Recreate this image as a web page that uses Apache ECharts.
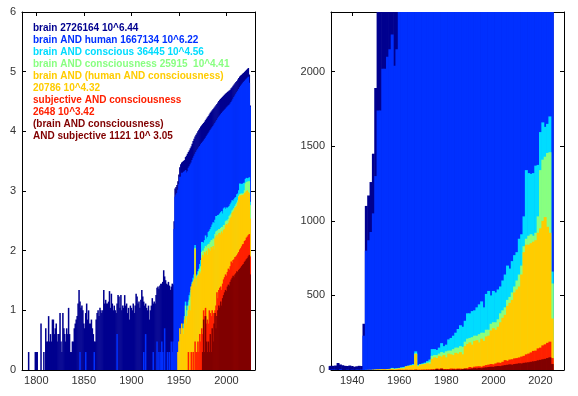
<!DOCTYPE html>
<html>
<head>
<meta charset="utf-8">
<script src="https://cdn.jsdelivr.net/npm/echarts@6/dist/echarts.min.js"></script>
<style>
  html, body { margin: 0; padding: 0; background: #fff; }
  #chart { width: 578px; height: 396px; }
</style>
</head>
<body>
<div id="chart"></div>
<script>
// yearly hit counts; brain / brain AND human start in 1785, the rest in 1945
const YEAR0 = 1785;
const MODERN0 = 1945;

const brain = [
  0, 0, 1, 0, 0, 1, 0, 2, 0, 1,
  0, 0, 1, 0, 2, 2, 2, 0, 1, 0,
  6, 1, 0, 2, 1, 5, 3, 3, 8, 3,
  4, 3, 7, 7, 4, 5, 6, 3, 4, 4,
  9, 3, 2, 9, 5, 4, 3, 5, 4, 11,
  4, 2, 2, 3, 3, 5, 6, 7, 8, 13,
  22, 14, 11, 12, 10, 6, 5, 9, 13, 7,
  10, 6, 6, 7, 5, 4, 3, 3, 7, 9,
  10, 8, 11, 10, 9, 10, 22, 13, 15, 13,
  13, 14, 21, 11, 19, 13, 10, 12, 10, 9,
  13, 18, 17, 11, 18, 10, 12, 11, 18, 12,
  13, 9, 11, 7, 12, 11, 10, 13, 9, 12,
  19, 17, 13, 14, 11, 15, 22, 17, 14, 12,
  13, 11, 10, 12, 7, 10, 12, 16, 13, 14,
  13, 18, 24, 25, 23, 26, 28, 28, 30, 47,
  37, 32, 28, 27, 30, 26, 22, 25, 28, 27,
  310, 1100, 1170, 1260, 1450, 1890, 2500, 2800, 3000, 3100,
  3200, 3300, 3700, 3900, 4200, 4500, 4800, 5200, 5600, 6200,
  6900, 7500, 8200, 8800, 9300, 10000, 10600, 11300, 12000, 12600,
  13200, 13800, 14500, 15400, 16300, 17200, 18100, 19200, 20400, 21500,
  22500, 23600, 24800, 26000, 27300, 28800, 30500, 32300, 33900, 35300,
  36600, 38000, 39500, 41000, 42500, 44000, 45500, 47000, 48500, 50000,
  52500, 55000, 58000, 61000, 64000, 67000, 70000, 74000, 78000, 83000,
  86000, 89000, 92000, 95000, 99000, 103000, 107000, 111000, 115000, 90000,
  27000
];

const brainHuman = [
  0, 0, 0, 0, 0, 0, 0, 0, 0, 0,
  0, 0, 0, 0, 0, 0, 0, 0, 0, 0,
  0, 0, 0, 0, 0, 0, 0, 0, 0, 0,
  0, 0, 0, 0, 0, 0, 0, 0, 0, 0,
  0, 0, 0, 0, 0, 0, 0, 0, 0, 0,
  0, 0, 1, 0, 0, 0, 0, 0, 0, 0,
  0, 2, 0, 0, 0, 0, 0, 2, 0, 0,
  0, 0, 0, 0, 0, 0, 2, 0, 0, 0,
  0, 0, 0, 0, 0, 0, 0, 0, 0, 0,
  0, 0, 0, 0, 0, 0, 0, 0, 0, 0,
  4, 0, 0, 0, 0, 0, 0, 0, 0, 0,
  0, 0, 0, 0, 0, 0, 0, 0, 0, 0,
  0, 0, 0, 0, 0, 0, 0, 0, 2, 0,
  4, 0, 0, 0, 0, 0, 0, 0, 2, 0,
  0, 0, 3, 0, 2, 0, 2, 3, 2, 0,
  5, 0, 0, 2, 0, 2, 0, 3, 2, 3,
  230, 800, 870, 925, 1050, 1300, 1740, 1740, 2020, 2020,
  2100, 2150, 2250, 2040, 2150, 2450, 2600, 2800, 3000, 3300,
  3600, 3900, 4200, 4500, 4800, 5100, 5400, 5700, 6100, 6400,
  6700, 7000, 7400, 7800, 8300, 8800, 9300, 9900, 10500, 11100,
  11700, 12300, 13000, 13800, 14600, 15500, 16500, 17500, 18500, 19400,
  20300, 21200, 22100, 23000, 24000, 25000, 26000, 27000, 28000, 29200,
  31000, 33000, 35000, 37500, 40000, 42500, 45000, 48000, 51000, 55000,
  58000, 61000, 64000, 67000, 70000, 73000, 76000, 79000, 82000, 65000,
  26000
];

const brainConscious = [
  0, 1, 0, 1, 1, 2, 3, 4, 5, 4,
  6, 8, 14, 10, 12, 14, 18, 20, 25, 30,
  35, 40, 125, 35, 40, 45, 50, 60, 70, 140,
  140, 135, 150, 180, 160, 170, 205, 215, 230, 250,
  275, 300, 290, 330, 380, 380, 395, 400, 420, 440,
  460, 420, 510, 530, 500, 530, 520, 540, 560, 600,
  640, 700, 680, 730, 770, 790, 880, 910, 1030, 1340,
  1320, 1315, 1320, 1370, 1375, 1595, 1660, 1630, 1650, 1700,
  660
];

const brainConsciousness = [
  0, 0, 1, 0, 1, 2, 2, 3, 4, 3,
  5, 6, 12, 8, 10, 12, 15, 17, 22, 25,
  30, 33, 112, 30, 38, 40, 45, 50, 55, 95,
  100, 100, 110, 120, 115, 125, 130, 130, 140, 150,
  150, 160, 155, 190, 210, 215, 220, 230, 230, 240,
  250, 250, 270, 270, 310, 320, 320, 340, 380, 400,
  420, 470, 490, 520, 560, 600, 640, 700, 830, 880,
  900, 910, 900, 920, 1030, 1340, 1410, 1430, 1455, 1460,
  580
];

const brainHumanConsciousness = [
  0, 0, 0, 1, 2, 3, 5, 4, 6, 5,
  4, 7, 8, 6, 8, 10, 12, 10, 25, 28,
  30, 33, 107, 25, 35, 38, 40, 45, 42, 75,
  85, 80, 95, 90, 100, 85, 110, 105, 100, 115,
  110, 120, 105, 160, 175, 185, 170, 195, 200, 185,
  210, 195, 225, 230, 265, 280, 270, 290, 320, 350,
  370, 430, 450, 470, 520, 540, 560, 640, 790, 840,
  840, 850, 860, 870, 920, 950, 1000, 1025, 960, 920,
  345
];

const subjectiveConsciousness = [
  0, 0, 1, 0, 1, 0, 1, 0, 1, 1,
  0, 1, 1, 0, 1, 2, 1, 1, 2, 1,
  2, 1, 3, 2, 2, 3, 2, 4, 3, 5,
  4, 10, 8, 11, 6, 7, 6, 10, 9, 8,
  10, 9, 8, 10, 12, 20, 16, 22, 24, 25,
  22, 28, 33, 36, 40, 38, 44, 50, 48, 55,
  66, 62, 70, 72, 78, 80, 84, 90, 95, 105,
  110, 118, 128, 130, 145, 150, 165, 172, 182, 190,
  80
];

const brainConsciousnessSubjective = [
  0, 0, 0, 0, 0, 0, 0, 0, 0, 0,
  0, 0, 0, 0, 0, 0, 0, 0, 0, 0,
  0, 0, 1, 0, 0, 0, 1, 0, 1, 1,
  2, 7, 2, 8, 3, 2, 3, 2, 4, 2,
  5, 3, 6, 9, 5, 8, 10, 12, 11, 14,
  12, 16, 18, 20, 22, 21, 25, 27, 26, 30,
  33, 35, 38, 36, 40, 42, 45, 44, 48, 50,
  52, 55, 58, 60, 65, 68, 72, 75, 80, 85,
  40
];

const colors = ['#00008f', '#0030ff', '#00dcff', '#88ff80', '#ffcc00', '#ff2000', '#800000'];

const legendLines = [
  ['brain 2726164 10^6.44', 0],
  ['brain AND human 1667134 10^6.22', 1],
  ['brain AND conscious 36445 10^4.56', 2],
  ['brain AND consciousness 25915  10^4.41', 3],
  ['brain AND (human AND consciousness)', 4],
  ['20786 10^4.32', 4],
  ['subjective AND consciousness', 5],
  ['2648 10^3.42', 5],
  ['(brain AND consciousness)', 6],
  ['AND subjective 1121 10^ 3.05', 6]
];

const leftXTicks = [1800, 1850, 1900, 1950, 2000];
const rightXTicks = [1940, 1960, 1980, 2000, 2020];
const rightYTicks = [0, 500, 1000, 1500, 2000];

const seriesDefs = [
  { start: YEAR0, counts: brain },
  { start: YEAR0, counts: brainHuman },
  { start: MODERN0, counts: brainConscious },
  { start: MODERN0, counts: brainConsciousness },
  { start: MODERN0, counts: brainHumanConsciousness },
  { start: MODERN0, counts: subjectiveConsciousness },
  { start: MODERN0, counts: brainConsciousnessSubjective }
];

const FONT = '"Liberation Sans", Arial, Helvetica, sans-serif';
const RIGHT_MIN = 1931;

function logData(d) {
  return d.counts.map((c, i) => [d.start + i, c > 0 ? Math.log10(c) : null]);
}
function linData(d) {
  return d.counts.map((c, i) => [d.start + i, c]).filter(p => p[0] >= RIGHT_MIN - 1);
}

const plain = v => String(v);

function xAxis(grid, min, max, ticks, top) {
  return {
    type: 'value', gridIndex: grid, min: min, max: max,
    position: top ? 'top' : 'bottom',
    axisLine: { onZero: false, lineStyle: { color: '#000', width: 1 } },
    axisTick: { inside: true, length: 4, customValues: ticks, lineStyle: { color: '#000' } },
    axisLabel: { show: !top, customValues: ticks, formatter: plain, color: '#333', fontSize: 11, fontFamily: FONT, margin: 5 },
    splitLine: { show: false }
  };
}
function yAxis(grid, max, ticks, right) {
  const a = {
    type: 'value', gridIndex: grid, min: 0, max: max,
    position: right ? 'right' : 'left',
    axisLine: { show: true, onZero: false, lineStyle: { color: '#000', width: 1 } },
    axisTick: { show: true, inside: true, length: 4, lineStyle: { color: '#000' } },
    axisLabel: { show: !right, formatter: plain, color: '#333', fontSize: 11, fontFamily: FONT, margin: 6 },
    splitLine: { show: false }
  };
  if (ticks) {
    a.axisTick.customValues = ticks;
    a.axisLabel.customValues = ticks;
  } else {
    a.interval = 1;
  }
  return a;
}

function bars(data, xi, yi, color, width) {
  return {
    type: 'bar', xAxisIndex: xi, yAxisIndex: yi, data: data,
    barGap: '-100%', barWidth: width, clip: true,
    itemStyle: { color: color },
    emphasis: { disabled: true }, silent: true
  };
}

const series = [];
seriesDefs.forEach((d, i) => series.push(bars(logData(d), 0, 0, colors[i], '160%')));
seriesDefs.forEach((d, i) => series.push(bars(linData(d), 2, 2, colors[i], '125%')));

const chart = echarts.init(document.getElementById('chart'));
chart.setOption({
  animation: false,
  backgroundColor: '#fff',
  grid: [
    { left: 22, top: 12, width: 233, height: 358 },
    { left: 331, top: 12, width: 233, height: 358 }
  ],
  xAxis: [
    xAxis(0, 1785, 2030, leftXTicks, false),
    xAxis(0, 1785, 2030, leftXTicks, true),
    xAxis(1, RIGHT_MIN, 2030, rightXTicks, false),
    xAxis(1, RIGHT_MIN, 2030, rightXTicks, true)
  ],
  yAxis: [
    yAxis(0, 6, null, false),
    yAxis(0, 6, null, true),
    yAxis(1, 2400, rightYTicks, false),
    yAxis(1, 2400, rightYTicks, true)
  ],
  series: series,
  graphic: legendLines.map((l, i) => ({
    type: 'text', left: 33, top: 23 + i * 12, z: 100,
    style: { text: l[0], fill: colors[l[1]], font: 'bold 10px ' + FONT }
  }))
});
</script>
</body>
</html>
